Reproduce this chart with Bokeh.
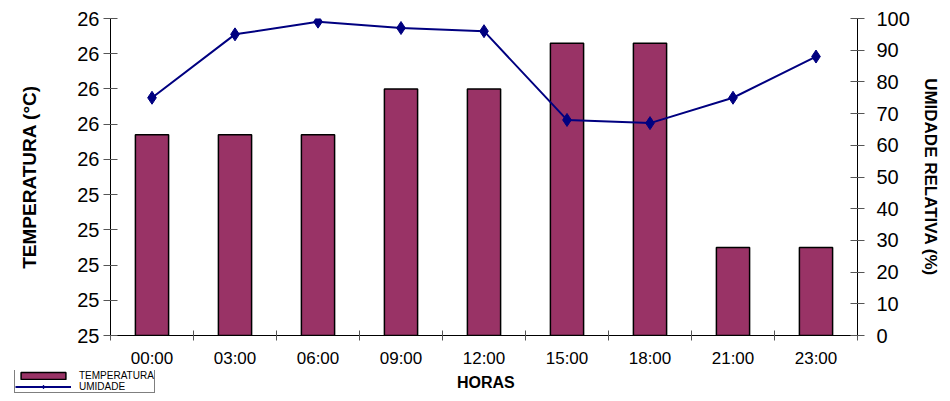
from bokeh.plotting import figure
from bokeh.layouts import column, row
from bokeh.models import (Range1d, LinearAxis, FixedTicker, Legend, LegendItem,
                          ColumnDataSource)
from bokeh.embed import file_html
from bokeh.resources import INLINE

# ---- data ----
hours = ["00:00", "03:00", "06:00", "09:00", "12:00", "15:00", "18:00", "21:00", "23:00"]
temperature = [25.57, 25.57, 25.57, 25.70, 25.70, 25.83, 25.83, 25.25, 25.25]
humidity = [75, 95, 99, 97, 96, 68, 67, 75, 88]

temp_ticks = [25.0, 25.1, 25.2, 25.3, 25.4, 25.5, 25.6, 25.7, 25.8, 25.9]
temp_tick_labels = ["25", "25", "25", "25", "25", "26", "26", "26", "26", "26"]
hum_ticks = [0, 10, 20, 30, 40, 50, 60, 70, 80, 90, 100]

x_label = "HORAS"
y_label = "TEMPERATURA (°C)"
y2_label = "UMIDADE RELATIVA (%)"
series_names = ["TEMPERATURA", "UMIDADE"]

# ---- derived positions ----
n = len(hours)
centers = [i + 0.5 for i in range(n)]
boundaries = list(range(n + 1))

src = ColumnDataSource(dict(x=centers, temp=temperature, hum=humidity))

FONT = "Liberation Sans"
BAR_COLOR = "#993366"
LINE_COLOR = "#000080"
TICK_COLOR = "#555555"
W = 942


def bar_glyph(fig, **kw):
    return fig.vbar(x="x", top="temp", bottom=temp_ticks[0], width=0.4, source=src,
                    fill_color=BAR_COLOR, line_color="black", line_width=1.5, **kw)


def hum_glyphs(fig, **kw):
    ln = fig.line(x="x", y="hum", source=src, line_color=LINE_COLOR, line_width=2, **kw)
    sc = fig.scatter(x="x", y="hum", source=src, marker="diamond", size=13,
                     fill_color=LINE_COLOR, line_color=LINE_COLOR, **kw)
    return ln, sc


# ================= main chart =================
p = figure(width=W, height=370, output_backend="svg", toolbar_location=None,
           x_range=Range1d(boundaries[0], boundaries[-1]),
           y_range=Range1d(temp_ticks[0], temp_ticks[-1]),
           min_border_left=110, min_border_right=85, min_border_top=18,
           min_border_bottom=35, x_axis_location=None, y_axis_location="left")
p.outline_line_color = None
p.xgrid.visible = False
p.ygrid.visible = False
p.background_fill_color = "white"
p.border_fill_color = "white"
p.extra_y_ranges = {"hum": Range1d(hum_ticks[0], hum_ticks[-1])}

# left axis
ya = p.yaxis[0]
ya.ticker = FixedTicker(ticks=temp_ticks)
ya.major_label_overrides = {t: l for t, l in zip(temp_ticks, temp_tick_labels)}
ya.minor_tick_line_color = None
ya.major_tick_in = 7
ya.major_tick_out = 7
ya.major_tick_line_color = TICK_COLOR
ya.axis_line_color = "black"
ya.major_label_text_font = FONT
ya.major_label_text_font_size = "20px"
ya.major_label_text_color = "black"
ya.major_label_standoff = 4
ya.axis_label = y_label
ya.axis_label_text_font = FONT
ya.axis_label_text_font_size = "19px"
ya.axis_label_text_font_style = "bold"
ya.axis_label_text_color = "black"
ya.axis_label_standoff = 34

# right axis
ra = LinearAxis(y_range_name="hum", ticker=FixedTicker(ticks=hum_ticks))
ra.minor_tick_line_color = None
ra.major_tick_in = 7
ra.major_tick_out = 7
ra.major_tick_line_color = TICK_COLOR
ra.axis_line_color = "black"
ra.major_label_text_font = FONT
ra.major_label_text_font_size = "20px"
ra.major_label_text_color = "black"
ra.major_label_standoff = 12
ra.axis_label = y2_label
ra.axis_label_text_font = FONT
ra.axis_label_text_font_size = "17px"
ra.axis_label_text_font_style = "bold"
ra.axis_label_text_color = "black"
ra.axis_label_standoff = 8
p.add_layout(ra, "right")

# bottom axis: labels at category centres, ticks at category boundaries
xa = LinearAxis(ticker=FixedTicker(ticks=centers, minor_ticks=boundaries))
xa.major_label_overrides = {c: h for c, h in zip(centers, hours)}
xa.major_tick_in = 0
xa.major_tick_out = 5
xa.major_tick_line_color = None
xa.minor_tick_in = 5
xa.minor_tick_out = 5
xa.minor_tick_line_color = TICK_COLOR
xa.axis_line_color = "black"
xa.major_label_text_font = FONT
xa.major_label_text_font_size = "17px"
xa.major_label_text_color = "black"
xa.major_label_standoff = 8
p.add_layout(xa, "below")

bar_glyph(p)
hum_glyphs(p, y_range_name="hum")

# ================= strip below: legend + x title =================
q = figure(width=W, height=23, output_backend="svg", toolbar_location=None,
           x_range=Range1d(0, 1), y_range=Range1d(0, 1),
           min_border_left=0, min_border_right=0, min_border_top=0,
           min_border_bottom=0, x_axis_location=None, y_axis_location=None)
q.outline_line_color = None
for g in q.grid:
    g.visible = False
q.background_fill_color = "white"
q.border_fill_color = "white"

# hidden copies of the series glyphs, used only for the legend swatches
lb = bar_glyph(q, visible=False)
ll, lp = hum_glyphs(q, visible=False)

legend = Legend(items=[LegendItem(label=series_names[0], renderers=[lb]),
                       LegendItem(label=series_names[1], renderers=[ll, lp])],
                location=(14, 0), orientation="vertical",
                label_text_font=FONT, label_text_font_size="10px",
                label_text_color="black", label_height=9, label_standoff=8,
                glyph_width=56, glyph_height=9, spacing=0, padding=0, margin=0,
                border_line_color="black", border_line_width=1,
                background_fill_color="white", background_fill_alpha=1.0,
                inactive_fill_alpha=0.0)
q.add_layout(legend, "center")

blank = q.line(x=[], y=[], line_color=None)
xtitle = Legend(items=[LegendItem(label=x_label, renderers=[blank])],
                location=(457, 1), orientation="horizontal",
                label_text_font=FONT, label_text_font_size="16px",
                label_text_font_style="bold", label_text_color="black",
                label_height=10, label_standoff=0, glyph_width=0, glyph_height=1,
                spacing=0, padding=0, margin=0, border_line_color=None,
                background_fill_alpha=0, inactive_fill_alpha=0.0)
q.add_layout(xtitle, "center")

layout = column(p, row(q, spacing=0), spacing=0)
open("out.html", "w").write(file_html(layout, INLINE))
